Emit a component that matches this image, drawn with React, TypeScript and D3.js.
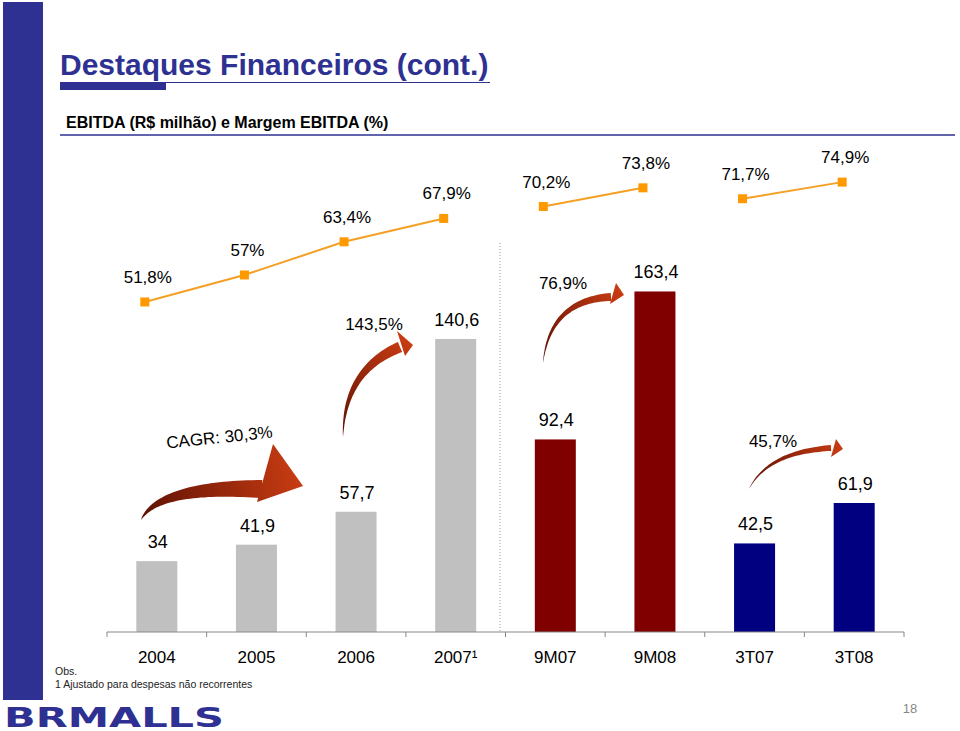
import React from "react";
import * as d3 from "d3";

const categories = ["2004", "2005", "2006", "2007¹", "9M07", "9M08", "3T07", "3T08"];
const ebitda = [34, 41.9, 57.7, 140.6, 92.4, 163.4, 42.5, 61.9];
const margin = [51.8, 57, 63.4, 67.9, 70.2, 73.8, 71.7, 74.9];
const groups = ["annual", "annual", "annual", "annual", "nine", "nine", "quarter", "quarter"];
const growthLabels = ["CAGR: 30,3%", "143,5%", "76,9%", "45,7%"];

const FONT = "'Liberation Sans', Arial, Helvetica, sans-serif";
const BLUE = "#2E3192";
const barColor: Record<string, string> = { annual: "#C0C0C0", nine: "#800000", quarter: "#000080" };

type P = [number, number];
const ARROWS: { tail: P; ctrl: P; end: P; w: number; head: [P, P, P]; label: P; rot: number }[] = [
  { tail: [141, 520], ctrl: [158, 486], end: [262, 489], w: 9, head: [[273, 444], [303, 486], [257, 502]], label: [220, 443], rot: -6 },
  { tail: [343, 437], ctrl: [344, 370], end: [400, 347], w: 5.5, head: [[397, 331], [413, 345], [405, 356]], label: [374, 330], rot: 0 },
  { tail: [543, 363], ctrl: [550, 300], end: [611, 297], w: 4, head: [[616, 283], [624, 295], [610, 304]], label: [563, 289], rot: 0 },
  { tail: [749, 489], ctrl: [768, 452], end: [831, 448], w: 3, head: [[836, 439], [843, 449], [831, 457]], label: [773, 447], rot: 0 },
];

function fmt(v: number) {
  return String(v).replace(".", ",");
}

function arrowBody(a: P, c: P, b: P, w: number) {
  const n = 40;
  const left: P[] = [];
  const right: P[] = [];
  for (let i = 0; i <= n; i++) {
    const t = i / n;
    const mt = 1 - t;
    const x = mt * mt * a[0] + 2 * mt * t * c[0] + t * t * b[0];
    const y = mt * mt * a[1] + 2 * mt * t * c[1] + t * t * b[1];
    const dx = 2 * mt * (c[0] - a[0]) + 2 * t * (b[0] - c[0]);
    const dy = 2 * mt * (c[1] - a[1]) + 2 * t * (b[1] - c[1]);
    const len = Math.hypot(dx, dy) || 1;
    const nx = -dy / len;
    const ny = dx / len;
    const hw = w * Math.pow(t, 0.85);
    left.push([x + nx * hw, y + ny * hw]);
    right.push([x - nx * hw, y - ny * hw]);
  }
  const pts = left.concat(right.reverse());
  return "M" + pts.map((p) => p[0].toFixed(1) + "," + p[1].toFixed(1)).join("L") + "Z";
}

export default function App() {
  const x = d3.scaleBand<string>().domain(categories).range([107, 904]).padding(0);
  const step = x.step();
  const barW = 41;
  const yBar = d3.scaleLinear().domain([0, 200]).range([632, 215.2]);
  const yLine = d3.scaleLinear().domain([50, 75]).range([311.3, 181.6]);
  const cx = (c: string) => (x(c) as number) + step / 2;
  const lx = (c: string) => (x(c) as number) + step / 2 - 12;

  const segs = d3.groups(
    categories.map((c, i) => ({ c, v: margin[i], g: groups[i] })),
    (d) => d.g
  );
  const line = d3
    .line<{ c: string; v: number }>()
    .x((d) => lx(d.c))
    .y((d) => yLine(d.v));

  const boundaries = d3.range(categories.length + 1).map((i) => 107 + i * step);

  return (
    <svg
      width={960}
      height={731}
      style={{ position: "absolute", left: 0, top: 0, display: "block", background: "#fff" }}
      fontFamily={FONT}
    >
      <defs>
        {ARROWS.map((a, i) => (
          <linearGradient
            key={i}
            id={"ag" + i}
            gradientUnits="userSpaceOnUse"
            x1={a.tail[0]}
            y1={a.tail[1]}
            x2={a.head[1][0]}
            y2={a.head[1][1]}
          >
            <stop offset="0" stopColor="#5e1204" />
            <stop offset="0.45" stopColor="#8e240a" />
            <stop offset="1" stopColor="#c83c12" />
          </linearGradient>
        ))}
      </defs>
      <rect x={0} y={0} width={960} height={731} fill="#fff" />
      {/* left band */}
      <rect x={3} y={2} width={40} height={698} fill={BLUE} />
      {/* title */}
      <text x={60} y={75} fontSize={30} fontWeight="bold" fill={BLUE}>
        Destaques Financeiros (cont.)
      </text>
      <line x1={60} y1={82.5} x2={490} y2={82.5} stroke={BLUE} strokeWidth={1} />
      <rect x={60} y={83} width={106} height={7} fill={BLUE} />
      <text x={66} y={128} fontSize={16} fontWeight="bold" fill="#000">
        EBITDA (R$ milhão) e Margem EBITDA (%)
      </text>
      <line x1={60} y1={135} x2={955} y2={135} stroke={BLUE} strokeWidth={1.5} />

      {/* separator */}
      <line x1={500} y1={243} x2={500} y2={632} stroke="#999" strokeWidth={1} strokeDasharray="1,2" />

      {/* bars */}
      {categories.map((c, i) => (
        <g key={c}>
          <rect
            x={cx(c) - barW / 2}
            y={yBar(ebitda[i])}
            width={barW}
            height={yBar(0) - yBar(ebitda[i])}
            fill={barColor[groups[i]]}
          />
          <text x={cx(c) + 1} y={yBar(ebitda[i]) - 13} fontSize={18} textAnchor="middle" fill="#000">
            {fmt(ebitda[i])}
          </text>
        </g>
      ))}

      {/* axis */}
      <line x1={107} y1={632} x2={904} y2={632} stroke="#888" strokeWidth={1} />
      {boundaries.map((b, i) => (
        <line key={i} x1={b} y1={632} x2={b} y2={637} stroke="#888" strokeWidth={1} />
      ))}
      {categories.map((c) => (
        <text key={c} x={cx(c)} y={663} fontSize={17} textAnchor="middle" fill="#000">
          {c}
        </text>
      ))}

      {/* margin line */}
      {segs.map(([g, pts]) => (
        <path key={g} d={line(pts) as string} fill="none" stroke="#F4A024" strokeWidth={2} />
      ))}
      {categories.map((c, i) => (
        <g key={c}>
          <rect x={lx(c) - 4.5} y={yLine(margin[i]) - 4.5} width={9} height={9} fill="#FF9900" />
          <text x={lx(c) + 3} y={yLine(margin[i]) - 19} fontSize={17} textAnchor="middle" fill="#000">
            {fmt(margin[i]) + "%"}
          </text>
        </g>
      ))}

      {/* growth arrows */}
      {ARROWS.map((a, i) => (
        <g key={i} fill={"url(#ag" + i + ")"}>
          <path d={arrowBody(a.tail, a.ctrl, a.end, a.w)} />
          <path d={"M" + a.head.map((p) => p.join(",")).join("L") + "Z"} />
          <text
            x={a.label[0]}
            y={a.label[1]}
            fontSize={17}
            textAnchor="middle"
            fill="#000"
            transform={a.rot ? `rotate(${a.rot},${a.label[0]},${a.label[1]})` : undefined}
          >
            {growthLabels[i]}
          </text>
        </g>
      ))}

      {/* footnote */}
      <text x={55} y={675} fontSize={10.5} fill="#222">Obs.</text>
      <text x={55} y={688} fontSize={10.5} fill="#222">1 Ajustado para despesas não recorrentes</text>

      {/* logo */}
      <text
        x={4}
        y={727}
        fontSize={27}
        fontWeight={900}
        fontFamily="'DejaVu Sans', sans-serif"
        fill={BLUE}
        textLength={220}
        lengthAdjust="spacingAndGlyphs"
      >
        BRMALLS
      </text>

      <text x={910} y={713} fontSize={13} textAnchor="middle" fill="#888">18</text>
    </svg>
  );
}
